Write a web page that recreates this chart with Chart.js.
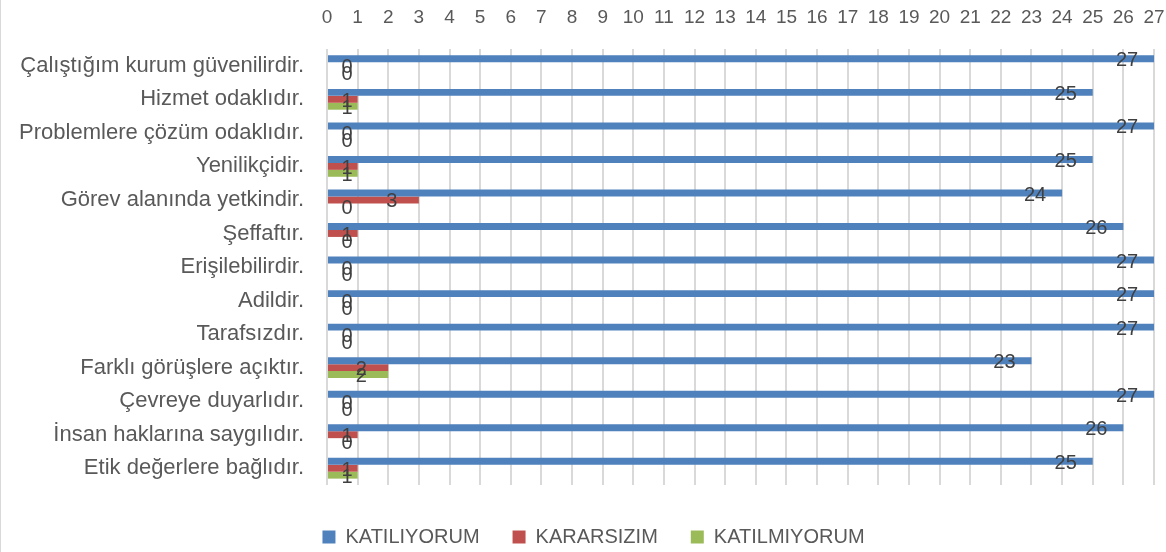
<!DOCTYPE html>
<html>
<head>
<meta charset="utf-8">
<script src="https://cdn.jsdelivr.net/npm/chart.js@4/dist/chart.umd.min.js"></script>
<style>
  html, body { margin: 0; padding: 0; background: #ffffff; }
  #wrap { position: absolute; left: 0; top: 0; width: 1165px; height: 552px; border-left: 1px solid #d9d9d9; }
  canvas { display: block; }
</style>
</head>
<body>
<div id="wrap"><canvas id="c"></canvas></div>
<script>
const categories = [
  "Çalıştığım kurum güvenilirdir.",
  "Hizmet odaklıdır.",
  "Problemlere çözüm odaklıdır.",
  "Yenilikçidir.",
  "Görev alanında yetkindir.",
  "Şeffaftır.",
  "Erişilebilirdir.",
  "Adildir.",
  "Tarafsızdır.",
  "Farklı görüşlere açıktır.",
  "Çevreye duyarlıdır.",
  "İnsan haklarına saygılıdır.",
  "Etik değerlere bağlıdır."
];
const seriesNames = ["KATILIYORUM", "KARARSIZIM", "KATILMIYORUM"];
const katiliyorum  = [27, 25, 27, 25, 24, 26, 27, 27, 27, 23, 27, 26, 25];
const kararsizim   = [0, 1, 0, 1, 3, 1, 0, 0, 0, 2, 0, 1, 1];
const katilmiyorum = [0, 1, 0, 1, 0, 0, 0, 0, 0, 2, 0, 0, 1];
const xMin = 0, xMax = 27, xStep = 1;

const FONT = "'Liberation Sans', Arial, sans-serif";

const dataLabels = {
  id: 'dataLabels',
  afterDatasetsDraw(chart) {
    const ctx = chart.ctx;
    const xs = chart.scales.x;
    const zeroPx = xs.getPixelForValue(0);
    ctx.save();
    ctx.font = "20px " + FONT;
    ctx.fillStyle = '#404040';
    ctx.textAlign = 'center';
    ctx.textBaseline = 'middle';
    chart.data.datasets.forEach((ds, di) => {
      const meta = chart.getDatasetMeta(di);
      meta.data.forEach((el, i) => {
        const cx = Math.max(el.x - 27, zeroPx + 20);
        ctx.fillText(String(ds.data[i]), cx, el.y + 2);
      });
    });
    ctx.restore();
  }
};

const legendShift = {
  id: 'legendShift',
  afterLayout(chart) {
    if (chart.legend) { chart.legend.left += 17; }
  }
};

new Chart(document.getElementById('c'), {
  type: 'bar',
  data: {
    labels: categories,
    datasets: [
      { label: seriesNames[0], data: katiliyorum,  backgroundColor: '#4F81BD' },
      { label: seriesNames[1], data: kararsizim,   backgroundColor: '#C0504D' },
      { label: seriesNames[2], data: katilmiyorum, backgroundColor: '#9BBB59' }
    ]
  },
  options: {
    indexAxis: 'y',
    responsive: true,
    maintainAspectRatio: false,
    animation: false,
    events: [],
    datasets: { bar: { categoryPercentage: 0.62, barPercentage: 1.0, borderWidth: 0 } },
    layout: { padding: { left: 15, right: 12, top: 0, bottom: -5 } },
    scales: {
      x: {
        position: 'top',
        min: xMin, max: xMax,
        ticks: { stepSize: xStep, color: '#595959', font: { family: FONT, size: 19, lineHeight: '62px' }, padding: 0, maxRotation: 0, autoSkip: false },
        grid: { color: '#d9d9d9', lineWidth: 2, drawTicks: false },
        border: { display: false },
        afterFit(scale) { scale.height = 49; }
      },
      y: {
        ticks: { color: '#595959', font: { family: FONT, size: 22 }, padding: 23, autoSkip: false },
        grid: { display: false, drawTicks: false },
        border: { display: false },
        afterFit(scale) { scale.width = 311; }
      }
    },
    plugins: {
      tooltip: { enabled: false },
      legend: {
        position: 'bottom',
        title: { display: true, text: '', font: { size: 5 }, padding: { top: 3, bottom: 0 } },
        labels: { boxWidth: 13, boxHeight: 13, padding: 33, color: '#595959', font: { family: FONT, size: 20 } }
      }
    }
  },
  plugins: [dataLabels, legendShift]
});
</script>
</body>
</html>
